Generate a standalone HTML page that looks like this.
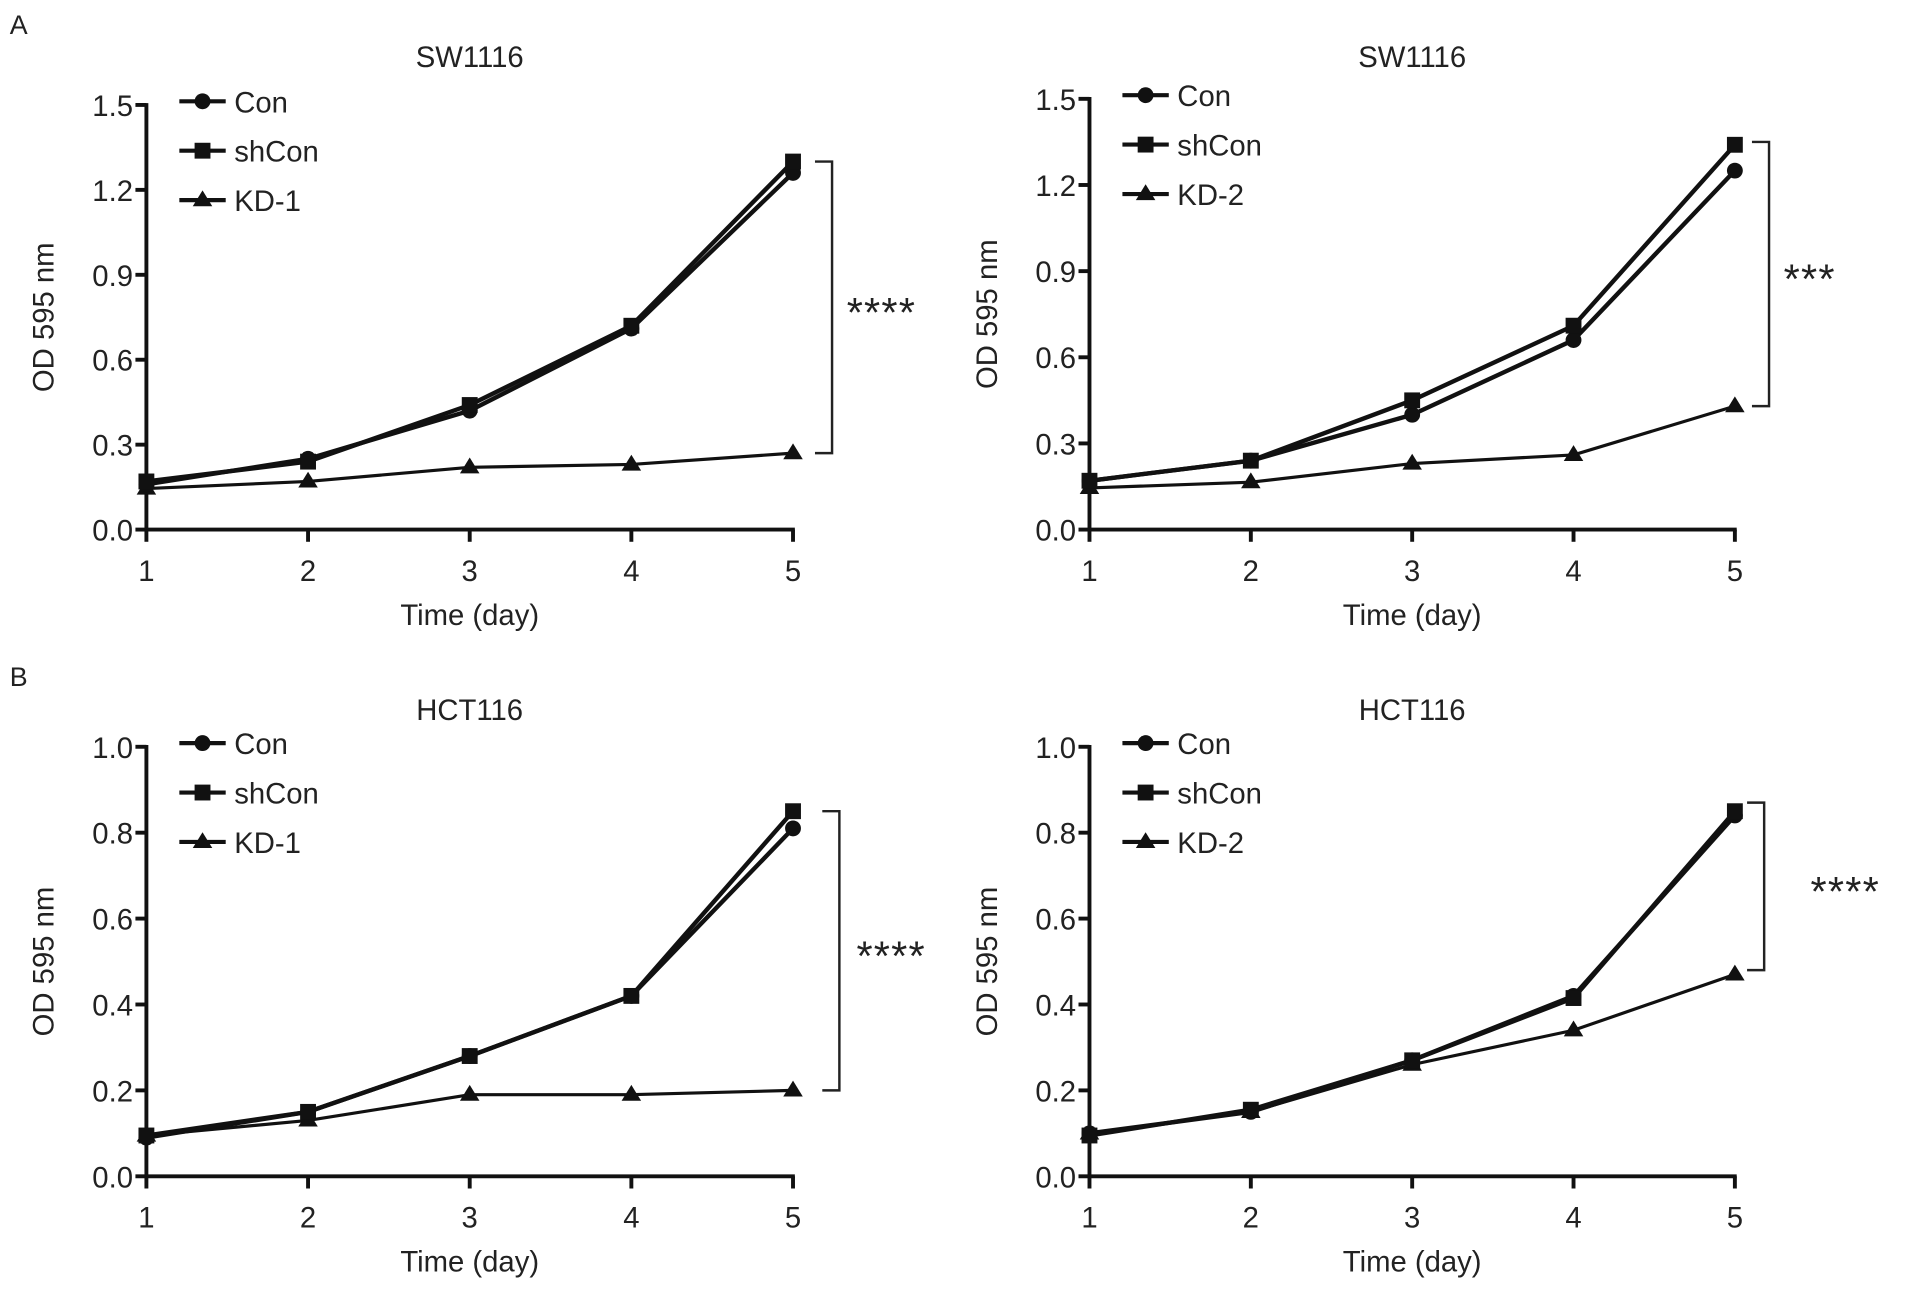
<!DOCTYPE html>
<html><head><meta charset="utf-8"><style>
html,body{margin:0;padding:0;background:#fff}
svg{display:block}
text{font-family:"Liberation Sans",Arial,sans-serif;fill:#222}
</style></head><body>
<svg id="fig" width="1913" height="1291" viewBox="0 0 1568 1058" preserveAspectRatio="none" xmlns="http://www.w3.org/2000/svg">
<text x="8" y="28" font-size="22">A</text>
<text x="8" y="562" font-size="22">B</text>
</svg>
<script>
const days=[1,2,3,4,5];
const conTL=[0.16,0.25,0.42,0.71,1.26];
const shTL=[0.17,0.24,0.44,0.72,1.30];
const kdTL=[0.145,0.17,0.22,0.23,0.27];
const conTR=[0.17,0.24,0.40,0.66,1.25];
const shTR=[0.17,0.24,0.45,0.71,1.34];
const kdTR=[0.145,0.165,0.23,0.26,0.43];
const conBL=[0.09,0.15,0.28,0.42,0.81];
const shBL=[0.095,0.15,0.28,0.42,0.85];
const kdBL=[0.095,0.13,0.19,0.19,0.20];
const conBR=[0.10,0.15,0.27,0.42,0.84];
const shBR=[0.095,0.155,0.27,0.415,0.85];
const kdBR=[0.10,0.15,0.26,0.34,0.47];
const ticksA=["0.0","0.3","0.6","0.9","1.2","1.5"];
const ticksB=["0.0","0.2","0.4","0.6","0.8","1.0"];
const NS="http://www.w3.org/2000/svg";
const svg=document.getElementById('fig');
function mk(tag,attrs,parent){const e=document.createElementNS(NS,tag);for(const k in attrs)e.setAttribute(k,attrs[k]);(parent||svg).appendChild(e);return e;}
function panel(o){
  const g=mk('g',{});
  
  
  const ymax=parseFloat(o.ticks[o.ticks.length-1]);
  const X=d=>o.x0+(d-1)*(o.x1-o.x0)/4;
  const Y=v=>o.y0-v/ymax*(o.y0-o.y1);
  const t=mk('text',{x:(o.x0+o.x1)/2,y:o.titleY,'font-size':24,'text-anchor':'middle'},g);t.textContent=o.title;
  
  
  const ya=mk('line',{x1:o.x0,y1:o.y0,x2:o.x0,y2:o.y1-1.5,stroke:'#111','stroke-width':3.2},g);
  
  
  const xa=mk('line',{x1:o.x0-1.5,y1:o.y0,x2:o.x1+1.5,y2:o.y0,stroke:'#111','stroke-width':3.2},g);
  
  
  o.ticks.forEach(s=>{const v=parseFloat(s);const y=Y(v);
    mk('line',{x1:o.x0-9,y1:y,x2:o.x0,y2:y,stroke:'#111','stroke-width':3.2},g);
    const tx=mk('text',{x:o.x0-11,y:y+9,'font-size':24,'text-anchor':'end'},g);tx.textContent=s;
    
    });
  days.forEach(d=>{const x=X(d);
    mk('line',{x1:x,y1:o.y0,x2:x,y2:o.y0+10,stroke:'#111','stroke-width':3.2},g);
    const tx=mk('text',{x:x,y:o.y0+42,'font-size':24,'text-anchor':'middle'},g);tx.textContent=d;
    
    });
  const xl=mk('text',{x:(o.x0+o.x1)/2,y:o.y0+78,'font-size':24,'text-anchor':'middle'},g);xl.textContent='Time (day)';
  
  
  const yc=(o.y0+o.y1)/2;
  const yl=mk('text',{x:o.x0-76,y:yc,'font-size':24,'text-anchor':'middle',transform:`rotate(-90 ${o.x0-76} ${yc})`},g);yl.textContent='OD 595 nm';
  
  
  function marker(kind,x,y,gg){
    if(kind==='c')mk('circle',{cx:x,cy:y,r:6.5,fill:'#111'},gg);
    else if(kind==='s')mk('rect',{x:x-6.5,y:y-6.5,width:13,height:13,fill:'#111'},gg);
    else mk('polygon',{points:`${x},${y-8} ${x-8},${y+5} ${x+8},${y+5}`,fill:'#111'},gg);
  }
  const series=[[o.kd,'t',2.6,'series-kd'],[o.con,'c',3.6,'series-con'],[o.sh,'s',3.6,'series-shcon']];
  series.forEach(([arr,k,w,nm])=>{
    const sg=mk('g',{},g);
    
    
    mk('polyline',{points:arr.map((v,i)=>X(days[i])+','+Y(v)).join(' '),fill:'none',stroke:'#111','stroke-width':w},sg);
    arr.forEach((v,i)=>marker(k,X(days[i]),Y(v),sg));
  });
  const labs=[['Con','c'],['shCon','s'],[o.kdName,'t']];
  labs.forEach(([l,k],i)=>{const ly=o.y1-3+i*40.5;const lx=o.x0+27;
    const lg=mk('g',{},g);
    
    
    mk('line',{x1:lx,y1:ly,x2:lx+38,y2:ly,stroke:'#111','stroke-width':3.4},lg);
    marker(k,lx+19,ly,lg);
    const tx=mk('text',{x:lx+45,y:ly+9,'font-size':24},lg);tx.textContent=l;});
  const bx=o.x1+o.bOff, ya1=Y(o.bTop), ya2=Y(o.bBot);
  const br=mk('polyline',{points:`${bx-14},${ya1} ${bx},${ya1} ${bx},${ya2} ${bx-14},${ya2}`,fill:'none',stroke:'#222','stroke-width':2},g);
  
  
  const st=mk('text',{x:bx+o.sOff,y:(ya1+ya2)/2+16,'font-size':34,'letter-spacing':'1'},g);st.textContent=o.stars;
  
  
}
panel({name:'chart-sw1116-kd1',title:'SW1116',titleY:55,x0:120,x1:650,y0:434,y1:86,ticks:ticksA,con:conTL,sh:shTL,kd:kdTL,kdName:'KD-1',bOff:32,bTop:1.30,bBot:0.27,stars:'****',sOff:12});
panel({name:'chart-sw1116-kd2',title:'SW1116',titleY:55,x0:893,x1:1422,y0:434,y1:81,ticks:ticksA,con:conTR,sh:shTR,kd:kdTR,kdName:'KD-2',bOff:28,bTop:1.35,bBot:0.43,stars:'***',sOff:12});
panel({name:'chart-hct116-kd1',title:'HCT116',titleY:590,x0:120,x1:650,y0:964,y1:612,ticks:ticksB,con:conBL,sh:shBL,kd:kdBL,kdName:'KD-1',bOff:38,bTop:0.85,bBot:0.20,stars:'****',sOff:14});
panel({name:'chart-hct116-kd2',title:'HCT116',titleY:590,x0:893,x1:1422,y0:964,y1:612,ticks:ticksB,con:conBR,sh:shBR,kd:kdBR,kdName:'KD-2',bOff:24,bTop:0.87,bBot:0.48,stars:'****',sOff:38});
</script>
</body></html>
